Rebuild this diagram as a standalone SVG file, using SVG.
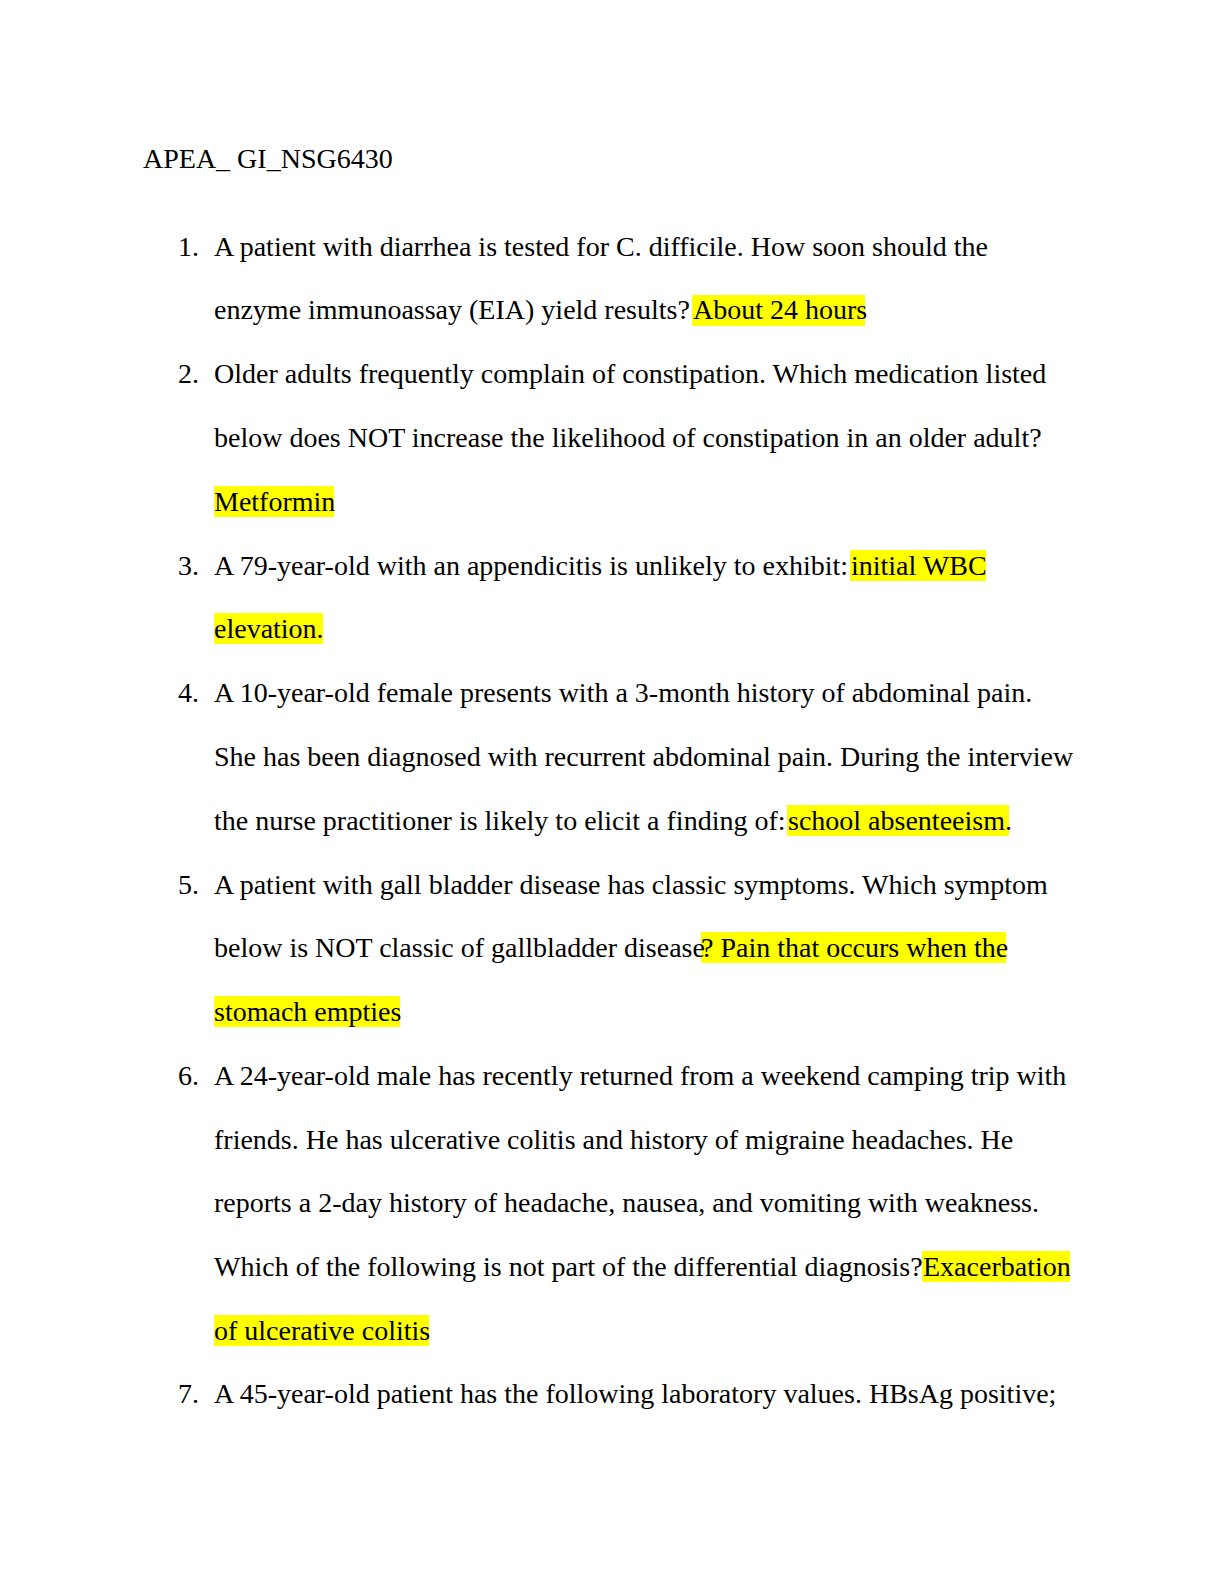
<svg xmlns="http://www.w3.org/2000/svg" width="1224" height="1584" viewBox="0 0 1224 1584">
<style>
text{font-family:"Liberation Serif","Times New Roman",serif;font-size:28px;fill:#000}
.h{fill:#ffff00}
</style>
<rect width="1224" height="1584" fill="#fff"/>
<g id="highlights">
<rect class="h" x="692" y="295" width="173" height="31"/>
<rect class="h" x="214" y="486" width="120" height="31"/>
<rect class="h" x="850" y="550" width="136" height="31"/>
<rect class="h" x="214" y="613" width="109" height="31"/>
<rect class="h" x="787" y="805" width="222" height="31"/>
<rect class="h" x="701" y="932" width="305" height="31"/>
<rect class="h" x="214" y="996" width="186" height="31"/>
<rect class="h" x="922" y="1251" width="148" height="31"/>
<rect class="h" x="214" y="1315" width="215" height="31"/>
</g>
<text x="143" y="168">APEA_ GI_NSG6430</text>
<text x="178" y="256">1.</text>
<text x="214" y="256">A patient with diarrhea is tested for C. difficile. How soon should the</text>
<text x="214" y="319">enzyme immunoassay (EIA) yield results? <tspan x="693">About 24 hours</tspan></text>
<text x="178" y="383">2.</text>
<text x="214" y="383">Older adults frequently complain of constipation. Which medication listed</text>
<text x="214" y="447">below does NOT increase the likelihood of constipation in an older adult?</text>
<text x="214" y="511">Metformin</text>
<text x="178" y="575">3.</text>
<text x="214" y="575">A 79-year-old with an appendicitis is unlikely to exhibit: <tspan x="851">initial WBC</tspan></text>
<text x="214" y="638">elevation.</text>
<text x="178" y="702">4.</text>
<text x="214" y="702">A 10-year-old female presents with a 3-month history of abdominal pain.</text>
<text x="214" y="766">She has been diagnosed with recurrent abdominal pain. During the interview</text>
<text x="214" y="830">the nurse practitioner is likely to elicit a finding of: <tspan x="788">school absenteeism.</tspan></text>
<text x="178" y="894">5.</text>
<text x="214" y="894">A patient with gall bladder disease has classic symptoms. Which symptom</text>
<text x="214" y="957">below is NOT classic of gallbladder disease<tspan x="701">? Pain that occurs when the</tspan></text>
<text x="214" y="1021">stomach empties</text>
<text x="178" y="1085">6.</text>
<text x="214" y="1085">A 24-year-old male has recently returned from a weekend camping trip with</text>
<text x="214" y="1149">friends. He has ulcerative colitis and history of migraine headaches. He</text>
<text x="214" y="1212">reports a 2-day history of headache, nausea, and vomiting with weakness.</text>
<text x="214" y="1276">Which of the following is not part of the differential diagnosis? <tspan x="923">Exacerbation</tspan></text>
<text x="214" y="1340">of ulcerative colitis</text>
<text x="178" y="1403">7.</text>
<text x="214" y="1403">A 45-year-old patient has the following laboratory values. HBsAg positive;</text>
</svg>
